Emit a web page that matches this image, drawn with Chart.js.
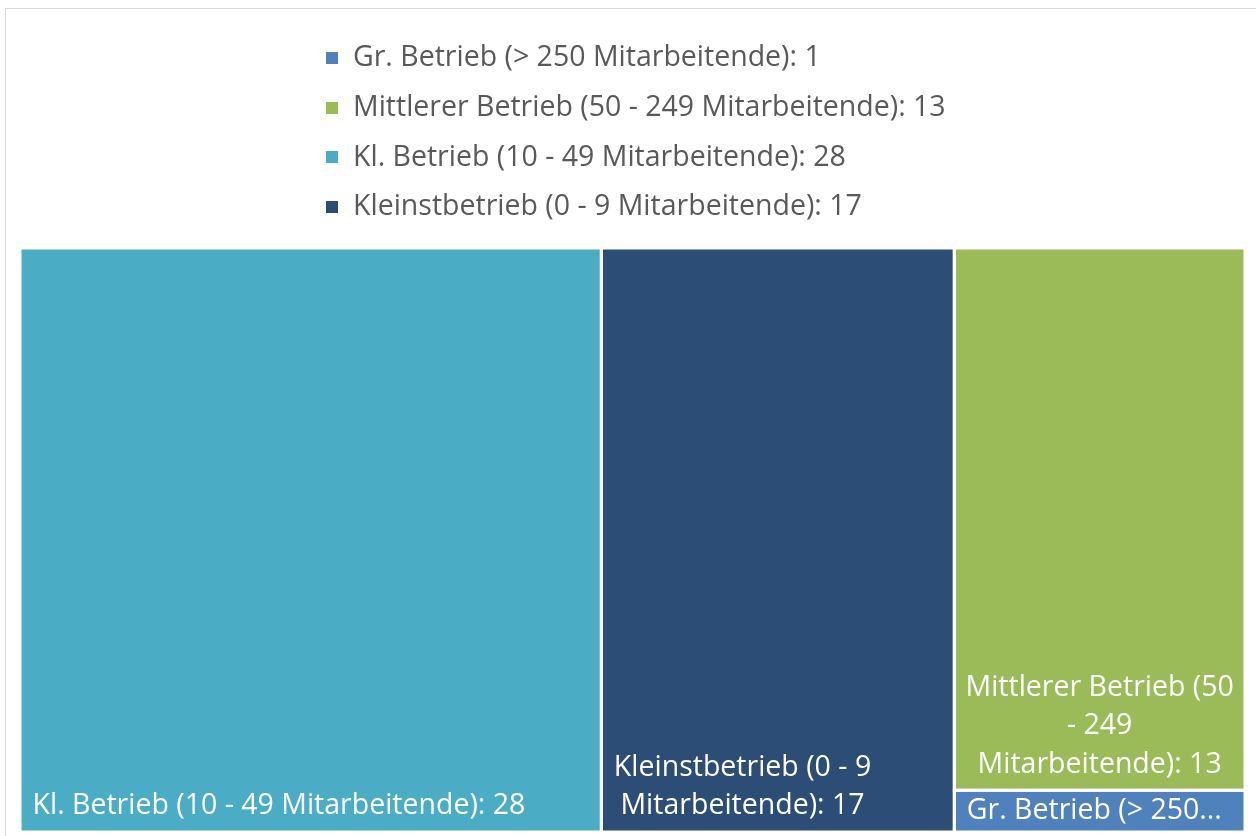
<!DOCTYPE html>
<html>
<head>
<meta charset="utf-8">
<script src="https://cdn.jsdelivr.net/npm/chart.js@4.4.0/dist/chart.umd.min.js"></script>
<style>
  html, body { margin: 0; padding: 0; background: #ffffff; }
  #wrap { position: relative; width: 1256px; height: 836px; }
</style>
</head>
<body>
<div id="wrap"><canvas id="chart" width="1256" height="836"></canvas></div>
<script>
// ---- data ----
const categories = [
  'Gr. Betrieb (> 250 Mitarbeitende)',
  'Mittlerer Betrieb (50 - 249 Mitarbeitende)',
  'Kl. Betrieb (10 - 49 Mitarbeitende)',
  'Kleinstbetrieb (0 - 9 Mitarbeitende)'
];
const values = [1, 13, 28, 17];
const colors = ['#4F81BD', '#9BBB59', '#4BACC6', '#2C4D75'];

// ---- layout settings ----
const CANVAS_W = 1256, CANVAS_H = 836;
const PAD = { left: 20, top: 248, right: 11, bottom: 4 };
const FONT = '"Open Sans", "Noto Sans", sans-serif';
const FONT_SIZE = 28.5;
const aspect = (CANVAS_W - PAD.left - PAD.right) / (CANVAS_H - PAD.top - PAD.bottom);

// squarified treemap layout in data units (x: 0..aspect, y: 0..1)
function worst(row, side) {
  const s = row.reduce((a, r) => a + r.area, 0);
  const mx = Math.max(...row.map(r => r.area));
  const mn = Math.min(...row.map(r => r.area));
  return Math.max(side * side * mx / (s * s), (s * s) / (side * side * mn));
}
function squarify(vals, W, H) {
  const total = vals.reduce((a, b) => a + b, 0);
  let rest = vals.map((v, i) => ({ index: i, value: v, area: v / total * W * H }))
                 .sort((a, b) => b.value - a.value);
  let x = 0, y = 0, w = W, h = H;
  const rects = [];
  while (rest.length) {
    const side = Math.min(w, h);
    const row = [rest[0]];
    let i = 1;
    while (i < rest.length && worst(row.concat([rest[i]]), side) <= worst(row, side)) {
      row.push(rest[i]); i++;
    }
    const rowArea = row.reduce((a, r) => a + r.area, 0);
    if (w >= h) {
      const cw = rowArea / h; let yy = y;
      row.forEach(r => { const rh = r.area / cw; rects.push({ ...r, x0: x, x1: x + cw, y0: yy, y1: yy + rh }); yy += rh; });
      x += cw; w -= cw;
    } else {
      const rh = rowArea / w; let xx = x;
      row.forEach(r => { const rw = r.area / rh; rects.push({ ...r, x0: xx, x1: xx + rw, y0: y, y1: y + rh }); xx += rw; });
      y += rh; h -= rh;
    }
    rest = rest.slice(row.length);
  }
  return rects;
}
const rects = squarify(values, aspect, 1);

const datasets = rects.map(r => ({
  type: 'scatter',
  label: categories[r.index],
  showLine: true,
  data: [{ x: r.x0, y: r.y0 }, { x: r.x1, y: r.y0 }],
  fill: { value: r.y1 },
  backgroundColor: colors[r.index],
  borderWidth: 0,
  pointRadius: 0,
  pointHoverRadius: 0,
  tension: 0
}));

function wrapText(ctx, text, maxW) {
  const words = text.split(' ');
  const lines = [];
  let cur = '';
  words.forEach(wd => {
    const test = cur ? cur + ' ' + wd : wd;
    if (ctx.measureText(test).width <= maxW || !cur) cur = test;
    else { lines.push(cur); cur = wd; }
  });
  if (cur) lines.push(cur);
  return lines;
}

const framePlugin = {
  id: 'frame',
  beforeDraw(chart) {
    const ctx = chart.ctx;
    ctx.save();
    ctx.strokeStyle = '#d9d9d9';
    ctx.lineWidth = 1;
    ctx.strokeRect(5.5, 8.5, CANVAS_W + 10, CANVAS_H + 10);
    ctx.restore();
  }
};

const cellPlugin = {
  id: 'cells',
  afterDatasetsDraw(chart) {
    const ctx = chart.ctx;
    const xs = chart.scales.x, ys = chart.scales.y;
    ctx.save();
    // white separators
    ctx.strokeStyle = '#ffffff';
    ctx.lineWidth = 3;
    rects.forEach(r => {
      const l = xs.getPixelForValue(r.x0), rr = xs.getPixelForValue(r.x1);
      const t = ys.getPixelForValue(r.y0), b = ys.getPixelForValue(r.y1);
      ctx.strokeRect(l, t, rr - l, b - t);
    });
    // labels
    ctx.font = FONT_SIZE + 'px ' + FONT;
    ctx.fillStyle = '#ffffff';
    ctx.textBaseline = 'middle';
    const lineH = 38.5, padX = 11, padB = 5, wrapPad = 7;
    rects.forEach(r => {
      const l = xs.getPixelForValue(r.x0) + 1.5, rr = xs.getPixelForValue(r.x1) - 1.5;
      const t = ys.getPixelForValue(r.y0) + 1.5, b = ys.getPixelForValue(r.y1) - 1.5;
      const text = categories[r.index] + ': ' + values[r.index];
      let lines = wrapText(ctx, text, rr - l - 2 * wrapPad);
      const maxLines = Math.max(1, Math.floor((b - t) / lineH));
      if (lines.length > maxLines) {
        lines = lines.slice(0, maxLines);
        lines[maxLines - 1] = lines[maxLines - 1] + '...';
      }
      const blockW = Math.max(...lines.map(s => ctx.measureText(s).width));
      const cx = l + Math.min(padX, Math.max(0, (rr - l - blockW) / 2)) + blockW / 2;
      let top = b - padB - lines.length * lineH;
      if (top < t) top = t;
      ctx.save();
      ctx.beginPath();
      ctx.rect(l, t, rr - l, b - t);
      ctx.clip();
      ctx.textAlign = 'center';
      lines.forEach((s, i) => ctx.fillText(s, cx, top + lineH * (i + 0.5)));
      ctx.restore();
    });
    ctx.restore();
  }
};

const legendPlugin = {
  id: 'customLegend',
  afterDraw(chart) {
    const ctx = chart.ctx;
    ctx.save();
    ctx.font = FONT_SIZE + 'px ' + FONT;
    ctx.textBaseline = 'middle';
    ctx.textAlign = 'left';
    const texts = categories.map((c, i) => c + ': ' + values[i]);
    const box = 12, gap = 15, rowH = 49.7, firstY = 58;
    const maxW = Math.max(...texts.map(t => ctx.measureText(t).width));
    const blockW = box + gap + maxW;
    const cxArea = (chart.chartArea.left + chart.chartArea.right) / 2;
    const left = Math.round(cxArea - blockW / 2) + 3;
    texts.forEach((t, i) => {
      const y = firstY + i * rowH;
      ctx.fillStyle = colors[i];
      ctx.fillRect(left, Math.round(y - box / 2), box, box);
      ctx.fillStyle = '#595959';
      ctx.fillText(t, left + box + gap, y);
    });
    ctx.restore();
  }
};

new Chart(document.getElementById('chart'), {
  type: 'scatter',
  data: { datasets },
  options: {
    responsive: false,
    animation: false,
    layout: { padding: PAD },
    scales: {
      x: { type: 'linear', min: 0, max: aspect, display: false },
      y: { type: 'linear', min: 0, max: 1, reverse: true, display: false }
    },
    plugins: {
      legend: { display: false },
      tooltip: { enabled: false }
    },
    events: []
  },
  plugins: [framePlugin, cellPlugin, legendPlugin]
});
</script>
</body>
</html>
